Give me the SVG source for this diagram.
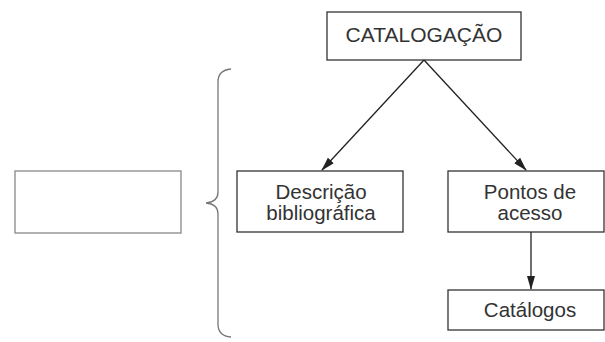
<svg xmlns="http://www.w3.org/2000/svg" width="605" height="342" viewBox="0 0 605 342">
<style>
.box{fill:#fff;stroke:#333;stroke-width:1.3}
.t{font-family:"Liberation Sans",Arial,sans-serif;font-size:20.5px;fill:#333;text-anchor:middle}
.c{stroke:#222;stroke-width:1.3;fill:none}
</style>
<defs>
<marker id="ah" markerWidth="14" markerHeight="10" refX="13" refY="5" orient="auto" markerUnits="userSpaceOnUse">
<path d="M0,1 L14,5 L0,9 Z" fill="#222"/>
</marker>
</defs>
<rect width="605" height="342" fill="#fff"/>
<g id="blank">
<rect x="15" y="171" width="166" height="62" fill="#fff" stroke="#888" stroke-width="1.3"/>
</g>
<g id="brace">
<path d="M231,69 Q218,70 218,82 L218,192 Q218,202 206,203 Q218,204 218,214 L218,324 Q218,336 231,337" fill="none" stroke="#777" stroke-width="1.3"/>
</g>
<g id="catalogacao">
<rect class="box" x="327" y="12" width="194" height="48"/>
<text class="t" x="424" y="42" style="font-size:21px">CATALOGAÇÃO</text>
</g>
<g id="descricao">
<rect class="box" x="237" y="171" width="166" height="61"/>
<text class="t" x="321" y="199">Descrição</text>
<text class="t" x="321" y="220">bibliográfica</text>
</g>
<g id="pontos">
<rect class="box" x="448" y="171" width="156" height="61"/>
<text class="t" x="530" y="199">Pontos de</text>
<text class="t" x="530" y="220">acesso</text>
</g>
<g id="catalogos">
<rect class="box" x="448" y="290" width="156" height="40"/>
<text class="t" x="530" y="317">Catálogos</text>
</g>
<g id="connectors">
<line class="c" x1="424" y1="60" x2="322" y2="170" marker-end="url(#ah)"/>
<line class="c" x1="424" y1="60" x2="526" y2="170" marker-end="url(#ah)"/>
<line class="c" x1="531" y1="232" x2="531" y2="289" marker-end="url(#ah)"/>
</g>
</svg>
